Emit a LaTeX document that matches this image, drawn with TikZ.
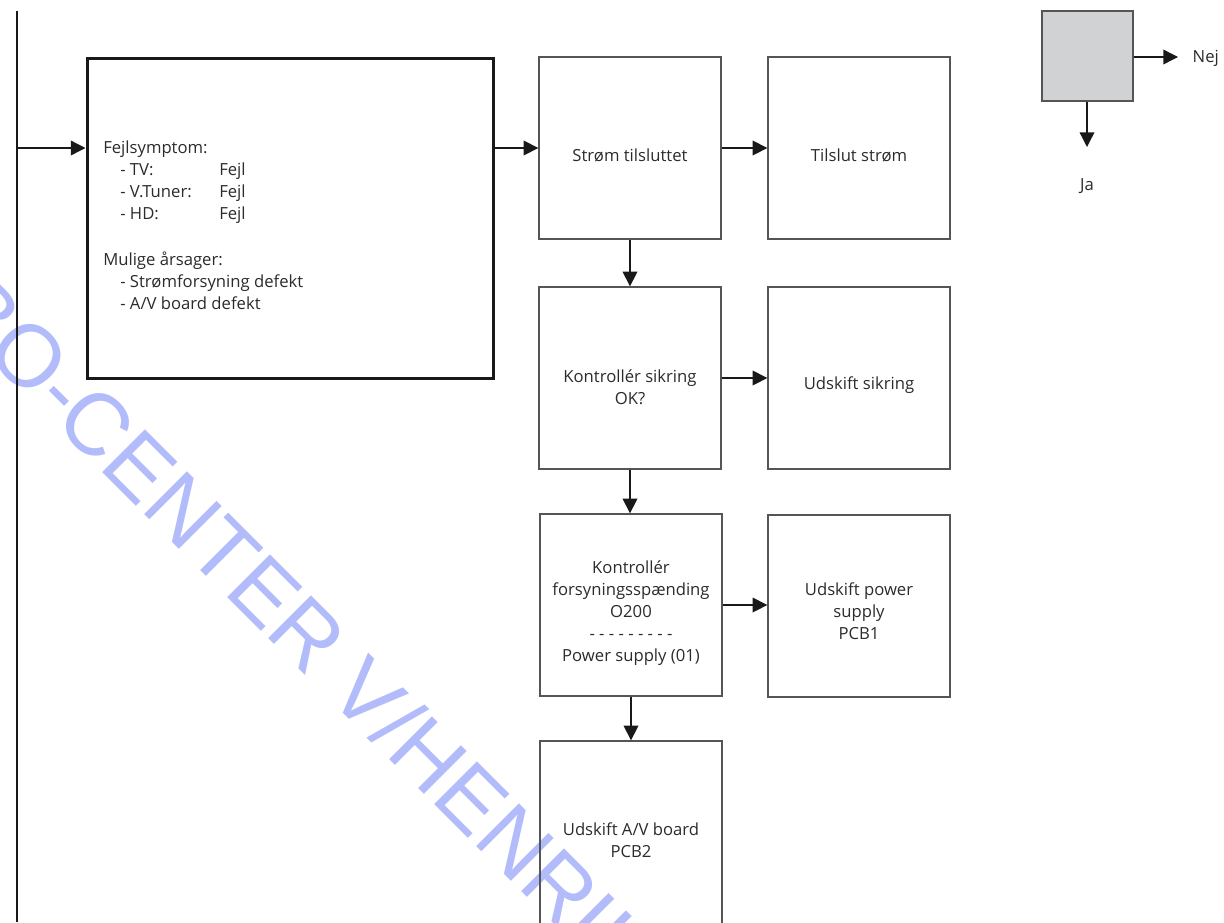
\documentclass[tikz,border=0pt]{standalone}
\usepackage{fontspec}
\setmainfont{Open Sans}
\newfontfamily\wmfont{Liberation Sans}
\usetikzlibrary{arrows.meta}
\definecolor{txt}{HTML}{2B2B2B}
\definecolor{boxline}{HTML}{555555}
\definecolor{wmblue}{HTML}{B3BCFA}
\definecolor{legendfill}{HTML}{D1D2D4}
\begin{document}
\begin{tikzpicture}[x=0.75pt,y=-0.75pt,
  every node/.style={font=\fontsize{12.5pt}{16.5pt}\selectfont, text=txt},
  stepbox/.style={draw=boxline, line width=1pt, minimum width=136.5pt, minimum height=136.5pt, inner sep=0pt},
  steptext/.style={align=center, inner sep=0pt},
  arr/.style={draw=black!90, line width=1pt, -{Triangle[length=11pt,width=11pt]}}]
\useasboundingbox (0,0) rectangle (1224,922);
\clip (0,0) rectangle (1224,922);
% watermark
\node[anchor=base west, rotate=-45, inner sep=0pt, font=\wmfont\fontsize{66pt}{70pt}\selectfont, text=wmblue] (wm) at (-58,312) {BO-CENTER V/HENRIK};
% left rail
\coordinate (vtop) at (17,11);
\coordinate (vbot) at (17,922);
\coordinate (vin) at (17,148);
\draw[line width=1pt, black!90] (vtop) -- (vbot);
% main box
\node[draw=black!90, line width=2.25pt, minimum width=304.5pt, minimum height=240pt, inner sep=0pt] (main) at (290,218) {};
\node[anchor=north west, align=left, inner sep=0pt] (sym) at (103,141) {Fejlsymptom:\\
\hspace*{12.75pt}\makebox[74.25pt][l]{- TV:}Fejl\\
\hspace*{12.75pt}\makebox[74.25pt][l]{- V.Tuner:}Fejl\\
\hspace*{12.75pt}\makebox[74.25pt][l]{- HD:}Fejl\\[18pt]
Mulige årsager:\\
\hspace*{12.75pt}- Strømforsyning defekt\\
\hspace*{12.75pt}- A/V board defekt};
% step boxes
\node[stepbox] (b1) at (630,148) {};
\node[stepbox] (b2) at (859,148) {};
\node[stepbox] (b3) at (630,378) {};
\node[stepbox] (b4) at (859,378) {};
\node[stepbox] (b5) at (631,605) {};
\node[stepbox] (b6) at (859,606) {};
\node[stepbox, minimum height=148.5pt] (b7) at (631,840) {};
\node[steptext] (t1) at ([yshift=-5.25pt]b1.center) {Strøm tilsluttet};
\node[steptext] (t2) at ([yshift=-5.25pt]b2.center) {Tilslut strøm};
\node[steptext] (t3) at ([yshift=-6.75pt]b3.center) {Kontrollér sikring\\OK?};
\node[steptext] (t4) at ([yshift=-5.25pt]b4.center) {Udskift sikring};
\node[steptext] (t5) at ([yshift=-6pt]b5.center) {Kontrollér\\forsyningsspænding\\O200\\- - - - - - - - -\\Power supply (01)};
\node[steptext] (t6) at ([yshift=-4pt]b6.center) {Udskift power\\supply\\PCB1};
\node[steptext] (t7) at (b7.center) {Udskift A/V board\\PCB2};
% connectors
\draw[arr] (vin) -- (vin -| main.west);
\draw[arr] (main.east |- b1.west) -- (b1.west);
\draw[arr] (b1.east) -- (b2.west);
\draw[arr] (b1.south) -- (b1.south |- b3.north);
\draw[arr] (b3.east) -- (b3.east -| b4.west);
\draw[arr] (b3.south) -- (b3.south |- b5.north);
\draw[arr] (b5.east) -- (b5.east -| b6.west);
\draw[arr] (b5.south) -- (b5.south |- b7.north);
% legend
\node[draw=boxline, fill=legendfill, line width=1pt, minimum width=68.25pt, minimum height=67.5pt, inner sep=0pt] (leg) at (1087.5,56) {};
\coordinate (nejend) at (1178,57);
\coordinate (jaend) at (1087,147);
\draw[arr] (leg.east |- nejend) -- (nejend);
\draw[arr] (leg.south -| jaend) -- (jaend);
\node[anchor=west] (nej) at (1188,58) {Nej};
\node (ja) at (1087,186) {Ja};
\end{tikzpicture}
\end{document}
